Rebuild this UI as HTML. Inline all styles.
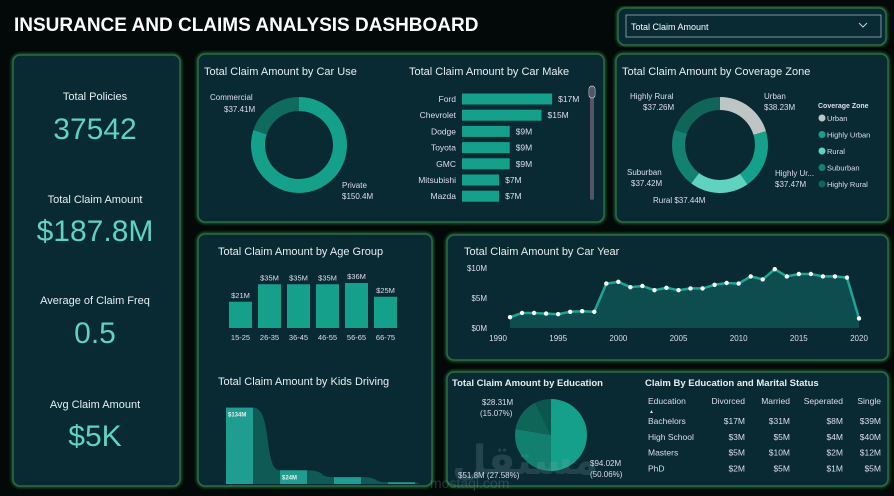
<!DOCTYPE html>
<html><head><meta charset="utf-8"><style>
html,body{margin:0;padding:0;background:#000;width:894px;height:496px;overflow:hidden}
svg{display:block;font-family:"Liberation Sans",sans-serif}
</style></head><body>
<svg id="s" width="894" height="496" viewBox="0 0 894 496">
<defs><filter id="g" x="-5%" y="-5%" width="110%" height="110%"><feGaussianBlur stdDeviation="1.5"/></filter></defs>
<rect width="894" height="496" fill="#030808"/>
<text x="14" y="31" fill="#fff" font-size="19" font-weight="bold">INSURANCE AND CLAIMS ANALYSIS DASHBOARD</text>
<g id="panels"></g>
<rect x="626" y="15" width="255" height="22" fill="none" stroke="#9ab" stroke-width="0.8"/>
<text x="631" y="30" fill="#fff" font-size="9">Total Claim Amount</text>
<path d="M859 23 l4 4 l4 -4" fill="none" stroke="#ccc" stroke-width="1"/>
<g fill="#e6eef0" text-anchor="middle">
<text x="95" y="100" font-size="11">Total Policies</text>
<text x="95" y="139" font-size="30" fill="#5fd3bc">37542</text>
<text x="95" y="203" font-size="11">Total Claim Amount</text>
<text x="95" y="241" font-size="30" fill="#5fd3bc">$187.8M</text>
<text x="95" y="304" font-size="11">Average of Claim Freq</text>
<text x="95" y="343" font-size="30" fill="#5fd3bc">0.5</text>
<text x="95" y="408" font-size="11">Avg Claim Amount</text>
<text x="95" y="446" font-size="30" fill="#5fd3bc">$5K</text>
</g>
<g fill="#e6eef0" font-size="11">
<text x="204" y="75">Total Claim Amount by Car Use</text>
<text x="409" y="75">Total Claim Amount by Car Make</text>
<text x="622" y="75">Total Claim Amount by Coverage Zone</text>
<text x="218" y="255">Total Claim Amount by Age Group</text>
<text x="218" y="385">Total Claim Amount by Kids Driving</text>
<text x="464" y="255">Total Claim Amount by Car Year</text>
<text x="452" y="386" font-size="9.5" font-weight="bold">Total Claim Amount by Education</text>
<text x="645" y="386" font-size="9.5" font-weight="bold">Claim By Education and Marital Status</text>
</g>
<rect x="590" y="86" width="4" height="114" rx="2" fill="#556"/>
<rect x="589" y="86" width="6" height="12" rx="3" fill="none" stroke="#ccc" stroke-width="0.8"/>
<g id="charts"></g>
<text x="452" y="474" font-size="40" fill="#8aa" opacity="0.2" font-weight="bold" font-family="'Liberation Sans','DejaVu Sans',sans-serif">مستقل</text>
<text x="430" y="488" font-size="14" fill="#8aa" opacity="0.25">mostaql.com</text>
</svg>
<script>
const NS="http://www.w3.org/2000/svg";
function mk(p,t,a,txt){const e=document.createElementNS(NS,t);for(const k in a)e.setAttribute(k,a[k]);if(txt!=null)e.textContent=txt;p.appendChild(e);return e;}
const P=document.getElementById('panels'),C=document.getElementById('charts');
const panelBoxes=[["kpi-panel",13,55,167,431],["car-use-make-panel",198,54,406,168],["coverage-panel",616,54,272,168],["dropdown-panel",618,8,268,37],["age-kids-panel",198,234,234,252],["car-year-panel",447,235,441,125],["education-panel",447,372,441,114]];
panelBoxes.forEach(b=>{
 mk(P,'rect',{x:b[1],y:b[2],width:b[3],height:b[4],rx:7,fill:'none',stroke:'#2f8a45',"stroke-width":3,filter:'url(#g)',opacity:0.8});
 const r=mk(P,'rect',{x:b[1],y:b[2],width:b[3],height:b[4],rx:7,fill:'#0a2a33',stroke:'#2a6d45',"stroke-width":1.5});
 
 
});
function arc(cx,cy,ro,ri,a0,a1){const p=(r,a)=>[cx+r*Math.sin(a),cy-r*Math.cos(a)];const l=a1-a0>Math.PI?1:0;const A=p(ro,a0),B=p(ro,a1),Cc=p(ri,a1),D=p(ri,a0);
 return `M${A} A${ro},${ro} 0 ${l} 1 ${B} L${Cc} A${ri},${ri} 0 ${l} 0 ${D}Z`;}
function donut(cx,cy,ro,ri,vals,cols,start,name){const t=vals.reduce((a,b)=>a+b,0);let a=start;vals.forEach((v,i)=>{const a1=a+v/t*2*Math.PI;const e=mk(C,'path',{d:arc(cx,cy,ro,ri,a,a1),fill:cols[i]});
 
 a=a1;});}
const carUseCats=["Private","Commercial"];
const carUseVals=[150.4,37.41];
donut(299,145,48,34,carUseVals,["#14a08a","#0f6b5c"],0,'car-use');
[["Commercial",210,100,"$37.41M",224,112],["Private",342,188,"$150.4M",342,199]].forEach(l=>{mk(C,'text',{x:l[1],y:l[2],fill:'#dde',"font-size":8},l[0]);mk(C,'text',{x:l[4],y:l[5],fill:'#dde',"font-size":8},l[3]);});
const makeCats=["Ford","Chevrolet","Dodge","Toyota","GMC","Mitsubishi","Mazda"];
const makeVals=[17,15,9,9,9,7,7];
const makeLbl=["$17M","$15M","$9M","$9M","$9M","$7M","$7M"];
const mx=v=>v*5.3;
makeCats.forEach((c,i)=>{const y=99+i*16.2;
 mk(C,'text',{x:456,y:y+3,fill:'#dde',"font-size":8.5,"text-anchor":'end'},c);
 const r=mk(C,'rect',{x:462,y:y-5.5,width:mx(makeVals[i]),height:11,fill:'#14a08a'});
 
 
 mk(C,'text',{x:462+mx(makeVals[i])+6,y:y+3,fill:'#dde',"font-size":8.5},makeLbl[i]);});
const zoneCats=["Urban","Highly Urban","Rural","Suburban","Highly Rural"];
const zoneVals=[38.23,37.47,37.44,37.42,37.26];
const zoneCols=["#bfc4c4","#14a08a","#5fd3c0","#138070","#0f6658"];
donut(720,145,48,35,zoneVals,zoneCols,0,'coverage');
[["Highly Rural",630,99,"$37.26M",643,110],["Urban",764,99,"$38.23M",764,110],["Highly Ur...",775,176,"$37.47M",775,187],["Suburban",627,175,"$37.42M",631,186],["Rural $37.44M",653,203,"",0,0]].forEach(l=>{mk(C,'text',{x:l[1],y:l[2],fill:'#dde',"font-size":8},l[0]);if(l[3])mk(C,'text',{x:l[4],y:l[5],fill:'#dde',"font-size":8},l[3]);});
mk(C,'text',{x:818,y:108,fill:'#dde',"font-size":7,"font-weight":'bold'},"Coverage Zone");
zoneCats.forEach((z,i)=>{const y=118+i*16.5;const c=mk(C,'circle',{cx:822,cy:y,r:3.5,fill:zoneCols[i]});
 
 
 mk(C,'text',{x:827,y:y+3,fill:'#dde',"font-size":7.5},z);});
const ageCats=["15-25","26-35","36-45","46-55","56-65","66-75"];
const ageVals=[21,35,35,35,36,25];
const ageLbl=["$21M","$35M","$35M","$35M","$36M","$25M"];
const ay=v=>328-v*1.25;
ageCats.forEach((c,i)=>{const x=229+i*29;const r=mk(C,'rect',{x:x,y:ay(ageVals[i]),width:23,height:328-ay(ageVals[i]),fill:'#14a08a'});
 
 
 mk(C,'text',{x:x+11.5,y:ay(ageVals[i])-4,fill:'#dde',"font-size":7.5,"text-anchor":'middle'},ageLbl[i]);
 mk(C,'text',{x:x+11.5,y:340,fill:'#dde',"font-size":7.5,"text-anchor":'middle'},c);});
const kidCats=["0","1","2","3"];
const kidVals=[134,24,12,3];
const kidLbl=["$134M","$24M","",""];
const ky=v=>484-v*0.57;
const KP=54,KW=27,KX=226;
let d=`M${KX} 484`;kidVals.forEach((v,i)=>{const x=KX+i*KP;d+=` L${x} ${ky(v)} L${x+KW} ${ky(v)}`;if(i<kidVals.length-1)d+=` C${x+KW+20} ${ky(v)} ${x+KW+10} ${ky(kidVals[i+1])} ${x+KP} ${ky(kidVals[i+1])}`;});d+=` L420 484 Z`;
mk(C,'path',{d:d,fill:'#0f5a55'});
kidVals.forEach((v,i)=>{const x=KX+i*KP;const r=mk(C,'rect',{x:x,y:ky(v),width:KW,height:484-ky(v),fill:'#1f9d90'});
 
 
 if(kidLbl[i])mk(C,'text',{x:x+2,y:ky(v)+9,fill:'#e6eef0',"font-size":6,"font-weight":'bold'},kidLbl[i]);});
const years=[1991,1992,1993,1994,1995,1996,1997,1998,1999,2000,2001,2002,2003,2004,2005,2006,2007,2008,2009,2010,2011,2012,2013,2014,2015,2016,2017,2018,2019,2020];
const yearVals=[1.8,2.5,2.5,2.4,2.3,2.7,2.8,2.7,7.4,7.7,6.8,7.0,6.3,6.7,6.3,6.6,6.6,7.2,7.5,7.4,8.6,8.1,9.8,8.6,9.0,9.0,8.6,8.6,8.4,1.6];
const yTicks=[0,5,10];
const xTicks=[1990,1995,2000,2005,2010,2015,2020];
const X=y=>498+(y-1990)*(859-498)/30, Y=v=>328-v*6;
yTicks.forEach(t=>mk(C,'text',{x:487,y:Y(t)+3,fill:'#dde',"font-size":8,"text-anchor":'end'},"$"+t+"M"));
xTicks.forEach(t=>mk(C,'text',{x:X(t),y:341,fill:'#dde',"font-size":8,"text-anchor":'middle'},t));
let pl=years.map((y,i)=>X(y)+","+Y(yearVals[i])).join(" ");
mk(C,'polygon',{points:`${X(years[0])},${Y(0)} ${pl} ${X(years[years.length-1])},${Y(0)}`,fill:'#0d4d50'});
const line=mk(C,'polyline',{points:pl,fill:'none',stroke:'#1fa595',"stroke-width":2.5});


years.forEach((y,i)=>{const c=mk(C,'circle',{cx:X(y),cy:Y(yearVals[i]),r:2.2,fill:'#fff'});
 
 });
const eduCats=["Bachelors","High School","Masters","PhD"];
const eduVals=[94.02,51.8,28.31,13.69];
const eduCols=["#14a08a","#13806f","#0f6658","#0c5650"];
donut(551,435,36,0.01,eduVals,eduCols,0,'education');
[["$28.31M",482,405],["(15.07%)",480,416],["$94.02M",590,466],["(50.06%)",590,477],["$51.8M (27.58%)",458,478]].forEach(l=>mk(C,'text',{x:l[1],y:l[2],fill:'#dde',"font-size":8},l[0]));
const cols=["Divorced","Married","Seperated","Single"];
const colX=[745,790,843,881];
const tableRows=["Bachelors","High School","Masters","PhD"];
const divorced=["$17M","$3M","$5M","$2M"];
const married=["$31M","$5M","$10M","$5M"];
const separated=["$8M","$4M","$2M","$1M"];
const single=["$39M","$40M","$12M","$5M"];
mk(C,'text',{x:648,y:404,fill:'#dde',"font-size":8.5},"Education");
mk(C,'text',{x:649,y:413,fill:'#dde',"font-size":5},"▲");
cols.forEach((c,i)=>mk(C,'text',{x:colX[i],y:404,fill:'#dde',"font-size":8.5,"text-anchor":'end'},c));
tableRows.forEach((r,j)=>{const y=424+j*15.8;
 mk(C,'text',{x:648,y:y,fill:'#dde',"font-size":8.5},r);
 [divorced,married,separated,single].forEach((arr,i)=>mk(C,'text',{x:colX[i],y:y,fill:'#dde',"font-size":8.5,"text-anchor":'end'},arr[j]));});
</script>
</body></html>
